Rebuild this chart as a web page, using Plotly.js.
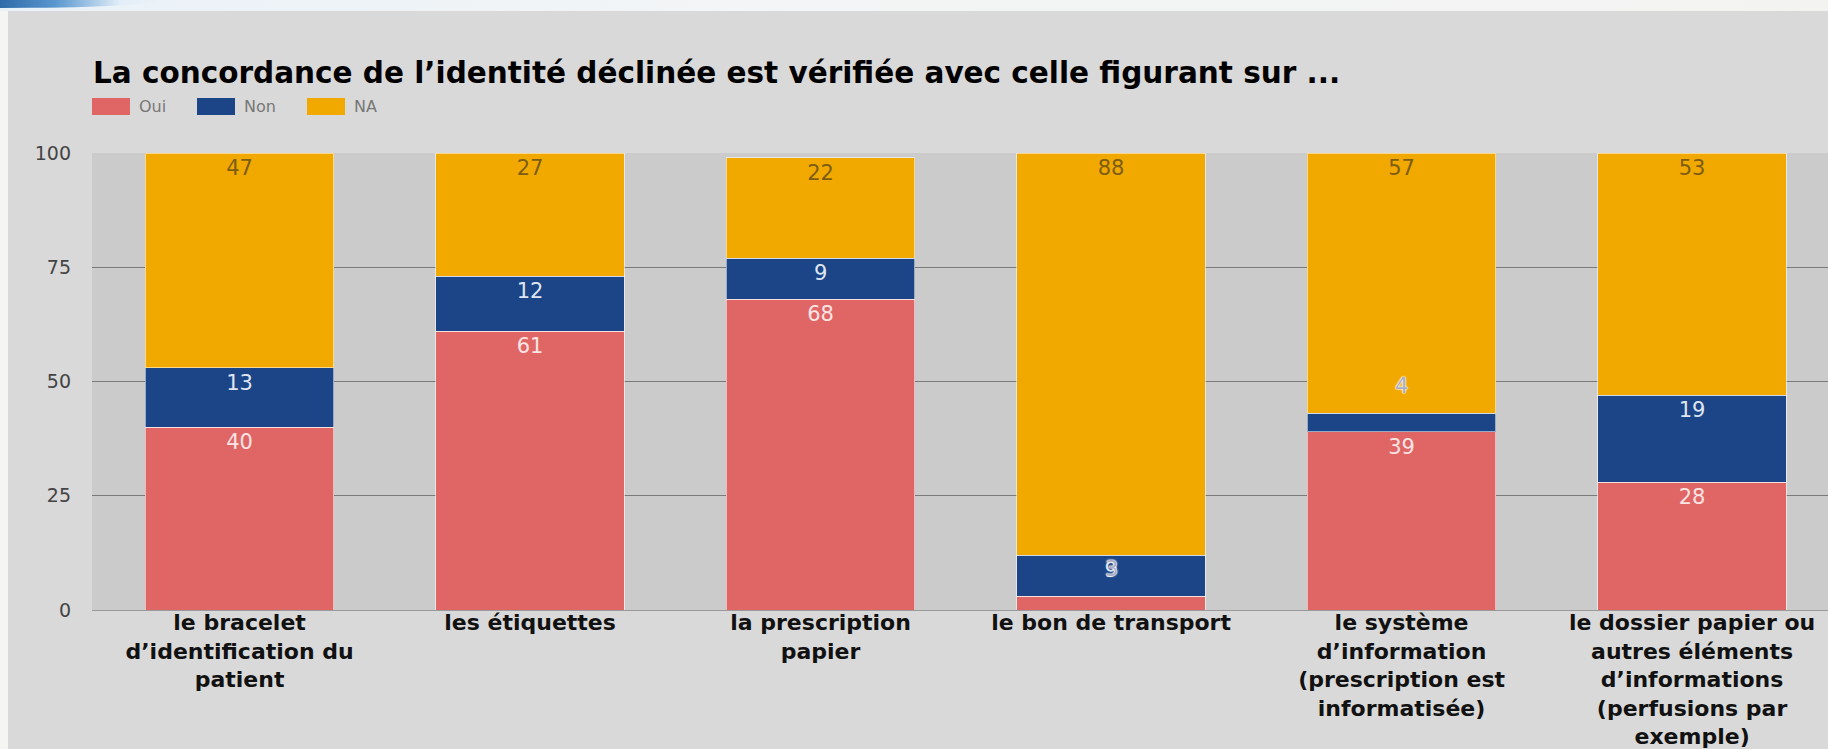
<!DOCTYPE html>
<html>
<head>
<meta charset="utf-8">
<script src="https://cdn.plot.ly/plotly-3.0.1.min.js"></script>
<style>
  html, body { margin: 0; padding: 0; width: 1828px; height: 749px; overflow: hidden; background: #f5f5f3; }
  #swoosh { position: absolute; left: 0; top: 0; width: 160px; height: 8px;
    background: linear-gradient(to right, #2d6aa8 0%, #5b98cf 35%, rgba(220,235,248,0.6) 75%, rgba(245,245,243,0) 100%);
    border-bottom-right-radius: 100% 8px; }
  #topband { position: absolute; left: 0; top: 0; width: 1828px; height: 11px;
    background: linear-gradient(to right, #e9f1f8, #f3f5f6 40%, #f3f4f2); }
  #chart { position: absolute; left: 8px; top: 11px; width: 1820px; height: 738px; }
</style>
</head>
<body>
<div id="topband"></div>
<div id="swoosh"></div>
<div id="chart"></div>
<script>
// ---- data ----
const categories = [
  "le bracelet<br>d’identification du<br>patient",
  "les étiquettes",
  "la prescription<br>papier",
  "le bon de transport",
  "le système<br>d’information<br>(prescription est<br>informatisée)",
  "le dossier papier ou<br>autres éléments<br>d’informations<br>(perfusions par<br>exemple)"
];
const seriesNames = ["Oui", "Non", "NA"];
const oui = [40, 61, 68, 3, 39, 28];
const non = [13, 12, 9, 9, 4, 19];
const na  = [47, 27, 22, 88, 57, 53];
const yTicks = [0, 25, 50, 75, 100];
const titleText = "La concordance de l’identité déclinée est vérifiée avec celle figurant sur ...";

// ---- styles ----
const barColors = ["#e06666", "#1c4587", "#f1a900"];
const textColors = ["#fbe4e4", "#dfe5f1", "#7d5d14"];
const FONT = "DejaVu Sans, Liberation Sans, Arial, sans-serif";
const series = [oui, non, na];
const SMALL = 6;

// geometry helpers (div is offset by 8,11 in the page)
const W = 1820, H = 738, ML = 84, MR = 0, MT = 142, MB = 139;
const PW = W - ML - MR, PH = H - MT - MB;
const OX = 8, OY = 11;
const px2x = px => (px - OX - ML) / PW;
const py2y = py => 1 - (py - OY - MT) / PH;
const catWidth = 290.5;
const x0 = -0.508;

const traces = series.map((vals, s) => ({
  type: "bar",
  name: seriesNames[s],
  x: categories,
  y: vals,
  text: vals.map(v => String(v)),
  textposition: vals.map(v => v < SMALL ? "none" : "inside"),
  insidetextanchor: "end",
  textangle: 0,
  constraintext: "none",
  textfont: { family: FONT, size: 21, color: textColors[s] },
  marker: { color: barColors[s], line: { color: "rgba(255,255,255,0.55)", width: 1 } },
  hoverinfo: "skip"
}));

const annotations = [];
// small-segment labels placed above their segment
series.forEach((vals, s) => {
  vals.forEach((v, i) => {
    if (v < SMALL) {
      let top = 0;
      for (let k = 0; k <= s; k++) top += series[k][i];
      annotations.push({
        x: categories[i], y: top, xref: "x", yref: "y",
        text: String(v), showarrow: false, yanchor: "bottom", yshift: 13,
        font: { family: FONT, size: 21, color: "#a9aec6",
                shadow: "0 0 2px #ffffff, 0 0 2px #ffffff, 0 0 1px #ffffff" }
      });
    }
  });
});

// custom legend
const legendBoxX = [92, 197, 307];
const shapes = [];
seriesNames.forEach((n, s) => {
  shapes.push({
    type: "rect", xref: "paper", yref: "paper", layer: "above",
    x0: px2x(legendBoxX[s]), x1: px2x(legendBoxX[s] + 38),
    y0: py2y(115), y1: py2y(98),
    fillcolor: barColors[s], line: { width: 0 }
  });
  annotations.push({
    xref: "paper", yref: "paper", x: px2x(legendBoxX[s] + 45), y: py2y(106.5),
    xanchor: "left", yanchor: "middle", showarrow: false, text: n,
    font: { family: FONT, size: 16, color: "#777777" }
  });
});

const layout = {
  width: W, height: H,
  margin: { l: ML, r: MR, t: MT, b: MB, pad: 0 },
  paper_bgcolor: "#d9d9d9",
  plot_bgcolor: "#cbcbcb",
  barmode: "stack",
  bargap: 0.35,
  showlegend: false,
  title: {
    text: "<b>" + titleText + "</b>",
    xref: "container", yref: "container",
    x: (93 - OX) / W, xanchor: "left",
    y: 1 - (73 - OY) / H, yanchor: "middle",
    font: { family: FONT, size: 29.5, color: "#000000" }
  },
  xaxis: {
    type: "category",
    range: [x0, x0 + PW / catWidth],
    showgrid: false, zeroline: false, showline: false,
    ticks: "", ticklabelstandoff: -3,
    tickfont: { family: FONT, size: 22, color: "#111111", weight: 700 },
    fixedrange: true
  },
  yaxis: {
    range: [0, 100],
    tickvals: yTicks,
    ticktext: yTicks.map(String),
    showgrid: true, gridcolor: "#7a7a7a", gridwidth: 1,
    zeroline: true, zerolinecolor: "#9a9a9a", zerolinewidth: 1,
    showline: false, ticks: "", ticklabelstandoff: 20,
    tickfont: { family: FONT, size: 19, color: "#444444" },
    fixedrange: true
  },
  shapes: shapes,
  annotations: annotations
};

Plotly.newPlot("chart", traces, layout, { displayModeBar: false, staticPlot: true });
</script>
</body>
</html>
